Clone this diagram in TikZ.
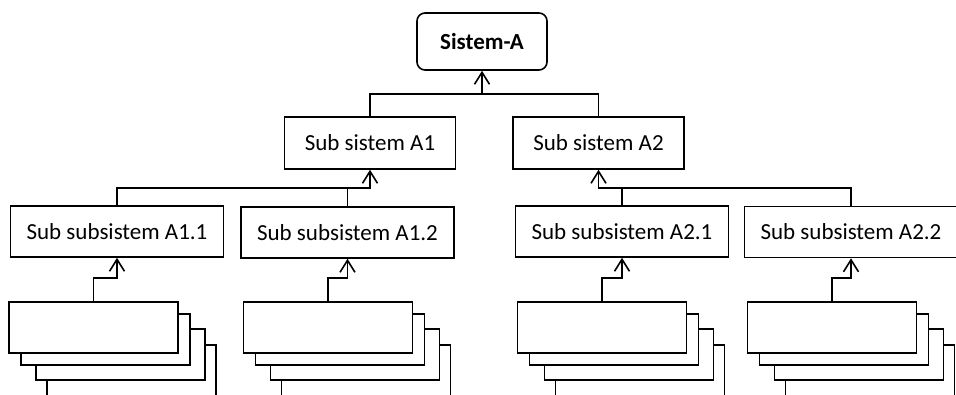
\documentclass[tikz,border=0pt]{standalone}
\usepackage{fontspec}
\setmainfont{Carlito}
\usetikzlibrary{arrows.meta}
\begin{document}
\begin{tikzpicture}[x=1pt,y=-1pt,
  line width=1.6pt,
  every node/.style={font=\fontsize{23}{26}\selectfont, inner sep=0pt, text=black},
  topbox/.style={draw, rounded corners=8pt, minimum width=130pt, minimum height=57pt, font=\fontsize{23}{26}\selectfont\bfseries},
  subbox/.style={draw, fill=white, minimum width=171pt, minimum height=52pt},
  subsubbox/.style={draw, fill=white, minimum width=213pt, minimum height=51pt},
  leafbox/.style={draw, fill=white, minimum width=169pt, minimum height=51pt},
  arr/.style={-{Straight Barb[length=12pt,width=15pt,line width=1.6pt]}},
]
\useasboundingbox (0,0) rectangle (956,394);
\clip (0,0) rectangle (956,394);

% top level
\node[topbox] (S) at (482,41.5) {Sistem-A};

% subsystems
\node[subbox] (A1) at (370,143) {Sub sistem A1};
\node[subbox] (A2) at (598.5,143) {Sub sistem A2};

% sub-subsystems
\node[subsubbox] (A11) at (117,231.5) {Sub subsistem A1.1};
\node[subsubbox] (A12) at (347.5,232.5) {Sub subsistem A1.2};
\node[subsubbox] (A21) at (622,231.5) {Sub subsistem A2.1};
\node[subsubbox] (A22) at (851,232) {Sub subsistem A2.2};

% stacks of component boxes (back to front)
\foreach \n/\cx in {s11/93.5, s12/328, s21/602, s22/832} {
  \node[leafbox] (\n d) at (\cx+38,327.5+43) {};
  \node[leafbox] (\n c) at (\cx+27,327.5+27) {};
  \node[leafbox] (\n b) at (\cx+12,327.5+12) {};
  \node[leafbox] (\n) at (\cx,327.5) {};
}

% connectors: subsystems to Sistem-A
\draw[arr] (A1.north) -- (A1.north |- 0,94) -| (S.south);
\draw (A2.north) -- (A2.north |- 0,94) -- (S.south |- 0,94);

% connectors: sub-subsystems to subsystems
\draw[arr] (A11.north) -- (A11.north |- 0,188) -| (A1.south);
\draw (A12.north) -- (A12.north |- 0,188);
\draw[arr] (A22.north) -- (A22.north |- 0,188) -| (A2.south);
\draw (A21.north) -- (A21.north |- 0,188);

% connectors: component stacks to sub-subsystems
\draw[arr] (s11.north) -- (s11.north |- 0,278) -| (A11.south);
\draw[arr] (s12.north) -- (s12.north |- 0,278) -| (A12.south);
\draw[arr] (s21.north) -- (s21.north |- 0,278) -| (A21.south);
\draw[arr] (s22.north) -- (s22.north |- 0,278) -| (A22.south);
\end{tikzpicture}
\end{document}
